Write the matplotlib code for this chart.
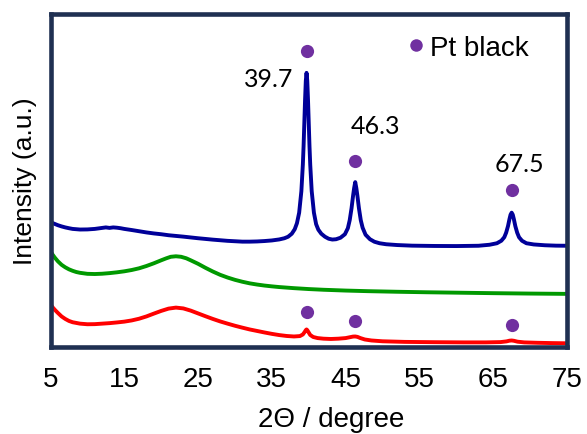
import matplotlib.pyplot as plt
from matplotlib.lines import Line2D

# XRD patterns, intensity in arbitrary units (curves already offset)
two_theta_blue = [5, 5.5, 6, 6.5, 7, 7.5, 8, 9, 10, 11, 11.5, 12, 12.5, 13, 13.5, 14, 14.5, 15,
                  16, 17, 18, 19, 20, 21, 22, 23, 24, 25, 26, 27, 28, 29, 30, 31, 32, 33, 34,
                  35, 36, 36.7, 37.2, 37.7, 38.1, 38.4, 38.7, 39.0, 39.2, 39.3, 39.4, 39.5,
                  39.6, 39.7, 39.8, 39.9, 40.0, 40.1, 40.2, 40.4, 40.7, 41.0, 41.3, 41.7,
                  42.2, 42.7, 43.2, 43.7, 44.3, 44.9, 45.3, 45.55, 45.8, 46.0, 46.15, 46.3,
                  46.45, 46.6, 46.8, 47.05, 47.3, 47.7, 48.3, 48.9, 49.6, 50.5, 52, 54, 57,
                  60, 63, 64.5, 65.5, 66.1, 66.5, 66.75, 67.0, 67.2, 67.35, 67.5, 67.65,
                  67.8, 68.0, 68.25, 68.5, 68.9, 69.5, 70.5, 72, 73.5, 75]
int_blue = [127, 125.5, 124, 122.8, 121.8, 121, 120.3, 119.7, 119.8, 120.3, 120.8, 121.3, 121.8,
            121.3, 121.8, 121.5, 121, 120.3, 119.2, 118, 116.8, 115.8, 115, 114, 113.3, 112.6,
            111.8, 111, 110.3, 109.6, 109, 108.4, 108, 107.6, 107.6, 107.8, 108.2, 108.8,
            109.8, 111, 112.5, 115.5, 120, 126, 136.5, 158, 184.5, 203, 226, 249, 268, 276,
            268, 249, 226, 203, 184.5, 158, 136.5, 125, 119.5, 115.5, 112.5, 110.5, 109.7,
            110, 111.5, 115, 121, 129, 141, 153, 161, 167, 161, 153, 141, 129, 121.5, 114.5,
            110, 107.5, 106, 105, 104.2, 103.6, 103.3, 103.2, 103.5, 104.5, 106, 108.5, 112,
            116.5, 123, 130, 134.5, 136.5, 134.5, 130, 123, 116.5, 112, 108.5, 106, 104.8,
            104, 103.6, 103.5]

two_theta_green = [5, 5.3, 5.6, 6, 6.5, 7, 7.5, 8, 8.5, 9, 10, 11, 12, 13, 14, 15, 16, 17, 18,
                   19, 20, 20.7, 21.3, 22, 22.7, 23.4, 24, 25, 26, 27, 28, 29, 30, 31, 32, 33,
                   34, 35, 36, 38, 40, 42, 45, 48, 52, 56, 60, 65, 70, 75]
int_green = [98, 94.5, 91.5, 88, 84.5, 82, 80, 78.5, 77.3, 76.5, 75.5, 75.3, 75.6, 76.2, 77, 78,
             79.3, 81, 83.3, 86, 89, 91, 92.5, 93, 92.5, 91, 89, 85.5, 81.5, 77.8, 74.5, 71.8,
             69.5, 67.6, 66, 64.8, 63.8, 63, 62.3, 61.2, 60.3, 59.6, 58.8, 58.2, 57.6, 57.1,
             56.7, 56.2, 55.8, 55.5]

two_theta_red = [5, 5.3, 5.6, 6, 6.5, 7, 7.5, 8, 9, 10, 11, 12, 13, 14, 15, 16, 17, 18, 19, 20,
                 21, 22, 23, 24, 25, 26, 27, 28, 29, 30, 31, 32, 33, 34, 35, 36, 37, 38, 38.8,
                 39.2, 39.45, 39.6, 39.7, 39.8, 39.95, 40.2, 40.6, 41.2, 42, 43, 44, 45, 45.6,
                 46.0, 46.3, 46.6, 47.0, 47.6, 48.5, 50, 53, 57, 61, 64, 66, 66.8, 67.2, 67.5,
                 67.8, 68.3, 69.2, 71, 73, 75]
int_red = [45, 42, 39.5, 36.5, 33, 30.5, 28.5, 27.2, 25.8, 25.2, 25.3, 25.8, 26.3, 27, 27.8, 29,
           30.7, 33, 35.8, 38.5, 40.8, 41.8, 41, 38.8, 36, 33.2, 30.5, 28, 25.8, 23.7, 21.8, 20,
           18.5, 17, 15.6, 14.4, 13.5, 13, 13.4, 15, 17.5, 19.3, 20, 19.3, 17.5, 14.5, 12.5,
           11.4, 10.8, 10.5, 10.8, 11.4, 12.3, 12.9, 13, 12.6, 11.4, 10, 9, 8.2, 7.6, 7.3, 7.1,
           7.1, 7.4, 8.1, 8.8, 9, 8.7, 7.8, 7.1, 6.7, 6.4, 6.2]

# Pt reflections and marker heights above each pattern
pt_peaks = [39.7, 46.3, 67.5]
pt_labels = ["39.7", "46.3", "67.5"]
dot_blue = [298, 188, 159]
dot_red = [37, 28, 24]
label_pos = [(37.9, 270), (49.1, 223), (68.6, 186)]
label_ha = ["right", "center", "center"]

frame = "#1f3052"
purple = "#7030a0"

plt.rcParams["font.family"] = ["Liberation Sans", "DejaVu Sans"]

fig = plt.figure(figsize=(5.87, 4.35), dpi=100)
ax = fig.add_axes([50.5 / 587, 1 - 347.5 / 435, (567 - 50.5) / 587, (347.5 - 14.7) / 435])

ax.plot(two_theta_blue, int_blue, color="#000099", lw=2.8, solid_joinstyle="round")
ax.plot(two_theta_green, int_green, color="#009900", lw=2.8, solid_joinstyle="round")
ax.plot(two_theta_red, int_red, color="#ff0000", lw=2.8, solid_joinstyle="round")

ax.plot(pt_peaks, dot_blue, "o", color=purple, ms=9.5, mew=0)
ax.plot(pt_peaks, dot_red, "o", color=purple, ms=9.5, mew=0)

for lab, (lx, ly), ha in zip(pt_labels, label_pos, label_ha):
    ax.text(lx, ly, lab, ha=ha, va="center", fontsize=18, family=["Lato", "DejaVu Sans"])

handle = Line2D([], [], ls="none", marker="o", color=purple, ms=9, mew=0)
ax.legend([handle], ["Pt black"], loc="center left", bbox_to_anchor=(0.691, 0.8975),
          frameon=False, fontsize=20, handlelength=0.6, handletextpad=0.23,
          borderpad=0, borderaxespad=0)

ax.set_xlim(5, 75)
ax.set_ylim(3, 335)
ax.set_xticks([5, 15, 25, 35, 45, 55, 65, 75])
ax.set_yticks([])
ax.tick_params(axis="x", length=0, labelsize=20, pad=14)
for sp in ax.spines.values():
    sp.set_color(frame)
    sp.set_linewidth(3.3)

fig.text(331 / 587, 1 - 426.7 / 435, "2Θ / degree", ha="center", va="baseline", fontsize=20)
fig.text(25 / 587, 1 - 181 / 435, "Intensity (a.u.)", ha="center", va="center",
         rotation=90, fontsize=19)

fig.savefig("out.png", dpi=100)
